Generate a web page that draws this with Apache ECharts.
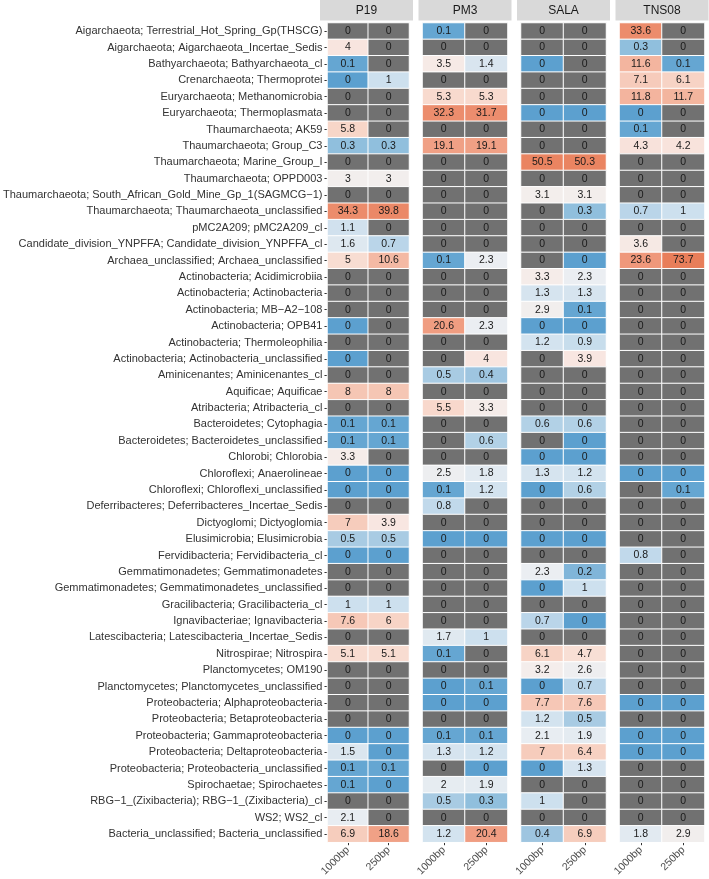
<!DOCTYPE html>
<html>
<head>
<meta charset="utf-8">
<script src="https://cdn.jsdelivr.net/npm/echarts@6/dist/echarts.min.js"></script>
<style>
html,body{margin:0;padding:0;background:#fff;}
#chart{width:709px;height:879px;}
</style>
</head>
<body>
<div id="chart"></div>
<script>
// ---- data ----
const taxa = [
  "Aigarchaeota; Terrestrial_Hot_Spring_Gp(THSCG)",
  "Aigarchaeota; Aigarchaeota_Incertae_Sedis",
  "Bathyarchaeota; Bathyarchaeota_cl",
  "Crenarchaeota; Thermoprotei",
  "Euryarchaeota; Methanomicrobia",
  "Euryarchaeota; Thermoplasmata",
  "Thaumarchaeota; AK59",
  "Thaumarchaeota; Group_C3",
  "Thaumarchaeota; Marine_Group_I",
  "Thaumarchaeota; OPPD003",
  "Thaumarchaeota; South_African_Gold_Mine_Gp_1(SAGMCG\u22121)",
  "Thaumarchaeota; Thaumarchaeota_unclassified",
  "pMC2A209; pMC2A209_cl",
  "Candidate_division_YNPFFA; Candidate_division_YNPFFA_cl",
  "Archaea_unclassified; Archaea_unclassified",
  "Actinobacteria; Acidimicrobiia",
  "Actinobacteria; Actinobacteria",
  "Actinobacteria; MB\u2212A2\u2212108",
  "Actinobacteria; OPB41",
  "Actinobacteria; Thermoleophilia",
  "Actinobacteria; Actinobacteria_unclassified",
  "Aminicenantes; Aminicenantes_cl",
  "Aquificae; Aquificae",
  "Atribacteria; Atribacteria_cl",
  "Bacteroidetes; Cytophagia",
  "Bacteroidetes; Bacteroidetes_unclassified",
  "Chlorobi; Chlorobia",
  "Chloroflexi; Anaerolineae",
  "Chloroflexi; Chloroflexi_unclassified",
  "Deferribacteres; Deferribacteres_Incertae_Sedis",
  "Dictyoglomi; Dictyoglomia",
  "Elusimicrobia; Elusimicrobia",
  "Fervidibacteria; Fervidibacteria_cl",
  "Gemmatimonadetes; Gemmatimonadetes",
  "Gemmatimonadetes; Gemmatimonadetes_unclassified",
  "Gracilibacteria; Gracilibacteria_cl",
  "Ignavibacteriae; Ignavibacteria",
  "Latescibacteria; Latescibacteria_Incertae_Sedis",
  "Nitrospirae; Nitrospira",
  "Planctomycetes; OM190",
  "Planctomycetes; Planctomycetes_unclassified",
  "Proteobacteria; Alphaproteobacteria",
  "Proteobacteria; Betaproteobacteria",
  "Proteobacteria; Gammaproteobacteria",
  "Proteobacteria; Deltaproteobacteria",
  "Proteobacteria; Proteobacteria_unclassified",
  "Spirochaetae; Spirochaetes",
  "RBG\u22121_(Zixibacteria); RBG\u22121_(Zixibacteria)_cl",
  "WS2; WS2_cl",
  "Bacteria_unclassified; Bacteria_unclassified"
];
const samples = ["P19", "PM3", "SALA", "TNS08"];
const fragments = ["1000bp", "250bp"];

// 0 = absent (grey); 0.03 = present but rounds to 0
const P19_1000 = [0,4,0.1,0.03,0,0,5.8,0.3,0,3,0,34.3,1.1,1.6,5,0,0,0,0.03,0,0.03,0,8,0,0.1,0.1,3.3,0.03,0.03,0,7,0.5,0.03,0,0,1,7.6,0,5.1,0,0,0,0,0.03,1.5,0.1,0.1,0,2.1,6.9];
const P19_250  = [0,0,0,1,0,0,0,0.3,0,3,0,39.8,0,0.7,10.6,0,0,0,0,0,0,0,8,0,0.1,0.1,0,0.03,0.03,0,3.9,0.5,0.03,0,0,1,6,0,5.1,0,0,0,0,0.03,0.03,0.1,0.03,0,0,18.6];
const PM3_1000 = [0.1,0,3.5,0,5.3,32.3,0,19.1,0,0,0,0,0,0,0.1,0,0,0,20.6,0,0,0.5,0,5.5,0,0,0,2.5,0.1,0.8,0,0.03,0,0,0,0,0,1.7,0.1,0,0.03,0.03,0,0.1,1.3,0,2,0.5,0,1.2];
const PM3_250  = [0,0,1.4,0,5.3,31.7,0,19.1,0,0,0,0,0,0,2.3,0,0,0,2.3,0,4,0.4,0,3.3,0,0.6,0,1.8,1.2,0,0,0.03,0,0,0,0,0,1,0,0,0.1,0.03,0,0.1,1.2,0.03,1.9,0.3,0,20.4];
const SALA_1000 = [0,0,0.03,0,0,0.03,0,0,50.5,0,3.1,0,0,0,0,3.3,1.3,2.9,0.03,1.2,0,0,0,0,0.6,0,0.03,1.3,0.03,0,0,0.03,0,2.3,0.03,0,0.7,0,6.1,3.2,0.03,7.7,1.2,2.1,7,0.03,0,1,0,0.4];
const SALA_250  = [0,0,0,0,0,0.03,0,0,50.3,0,3.1,0.3,0,0,0.03,2.3,1.3,0.1,0.03,0.9,3.9,0,0,0,0.6,0.03,0.03,1.2,0.6,0,0,0.03,0,0.2,1,0,0.03,0,4.7,2.6,0.7,7.6,0.5,1.9,6.4,1.3,0,0,0,6.9];
const TNS08_1000 = [33.6,0.3,11.6,7.1,11.8,0.03,0.1,4.3,0,0,0,0.7,0,3.6,23.6,0,0,0,0,0,0,0,0,0,0,0,0,0.03,0,0,0,0,0.8,0,0,0,0,0,0,0,0,0.03,0,0.03,0.03,0,0,0,0,1.8];
const TNS08_250  = [0,0,0.1,6.1,11.7,0,0,4.2,0,0,0,1,0,0,73.7,0,0,0,0,0,0,0,0,0,0,0,0,0.03,0.1,0,0,0,0,0,0,0,0,0,0,0,0,0.03,0,0.03,0.03,0,0,0,0,2.9];

const panelValues = [
  [P19_1000, P19_250],
  [PM3_1000, PM3_250],
  [SALA_1000, SALA_250],
  [TNS08_1000, TNS08_250]
];

// ---- colour scale (log10 abundance) ----
const anchors = [
  [-1.6, "#5b9fcf"], [-1.0, "#64a5d2"], [-0.52, "#90bfdd"], [-0.3, "#a8cbe3"],
  [0.0, "#cde0ee"], [0.15, "#d9e5ef"], [0.35, "#eaeef2"], [0.5, "#f4eeec"],
  [0.6, "#f8e5df"], [0.72, "#f8dbcf"], [0.85, "#f6cbbb"], [1.06, "#f3b59f"],
  [1.29, "#f09f84"], [1.52, "#ec8c6c"], [1.70, "#ea8461"], [1.9, "#e87d59"]
];
const LMIN = -1.6, LMAX = 1.9;
function hex2rgb(h){return [1,3,5].map(i=>parseInt(h.substr(i,2),16));}
function colorAt(t){
  for (let i=0;i<anchors.length-1;i++){
    const [a,ca]=anchors[i],[b,cb]=anchors[i+1];
    if (t<=b){
      const f=(t-a)/(b-a), A=hex2rgb(ca), B=hex2rgb(cb);
      const c=A.map((v,k)=>Math.round(v+(B[k]-v)*f));
      return "rgb("+c.join(",")+")";
    }
  }
  return anchors[anchors.length-1][1];
}
const stops = [];
for (let i=0;i<=120;i++) stops.push(colorAt(LMIN+(LMAX-LMIN)*i/120));

// ---- layout ----
const panelLeft = [320, 418.5, 517, 615.5];
const panelW = 93;
const pad = 4;
const gridTop = 23, gridH = 822;

const grids=[], xAxes=[], yAxes=[], series=[], graphics=[];
samples.forEach((s, p) => {
  grids.push({left: panelLeft[p]+pad, top: gridTop, width: panelW-2*pad, height: gridH});
  xAxes.push({
    type: "category", gridIndex: p, data: fragments,
    axisLine: {show: false},
    axisTick: {show: true, alignWithLabel: true, length: 3, lineStyle: {color: "#333", width: 1}},
    axisLabel: {rotate: 45, fontSize: 10.5, color: "#4d4d4d", margin: 6, fontFamily: "Liberation Sans"},
    splitLine: {show: false}
  });
  yAxes.push({
    type: "category", gridIndex: p, data: taxa, inverse: true,
    show: p === 0,
    axisLine: {show: false},
    axisTick: {show: true, length: 3, alignWithLabel: true, lineStyle: {color: "#333", width: 1}},
    axisLabel: {fontSize: 11, color: "#333", margin: 5, fontFamily: "Liberation Sans"},
    splitLine: {show: false}
  });
  const data = [];
  panelValues[p].forEach((arr, xi) => {
    arr.forEach((v, yi) => {
      data.push([xi, yi, v, v > 0 ? Math.log10(v) : -99]);
    });
  });
  series.push({
    type: "heatmap", xAxisIndex: p, yAxisIndex: p, data: data,
    encode: {x: 0, y: 1},
    itemStyle: {borderColor: "#fff", borderWidth: 1},
    label: {
      show: true, fontSize: 10.5, color: "#1a1a1a", fontFamily: "Liberation Sans",
      formatter: (q) => String(Number(q.value[2].toFixed(1)))
    },
    emphasis: {disabled: true}
  });
  graphics.push({
    type: "rect", left: panelLeft[p], top: 0,
    shape: {width: panelW, height: 20.5}, style: {fill: "#d9d9d9"}
  });
  graphics.push({
    type: "text", x: panelLeft[p] + panelW/2, y: 10.5,
    style: {text: s, fill: "#1a1a1a", fontSize: 12, fontFamily: "Liberation Sans",
            align: "center", verticalAlign: "middle"}
  });
});

const chart = echarts.init(document.getElementById("chart"), null, {renderer: "canvas"});
chart.setOption({
  animation: false,
  backgroundColor: "#ffffff",
  grid: grids, xAxis: xAxes, yAxis: yAxes, series: series,
  visualMap: {
    show: false, type: "continuous", dimension: 3, min: LMIN, max: LMAX,
    range: [LMIN + 0.01, LMAX],
    seriesIndex: [0,1,2,3],
    inRange: {color: stops},
    outOfRange: {color: "#717171"}
  },
  graphic: graphics
});
</script>
</body>
</html>
